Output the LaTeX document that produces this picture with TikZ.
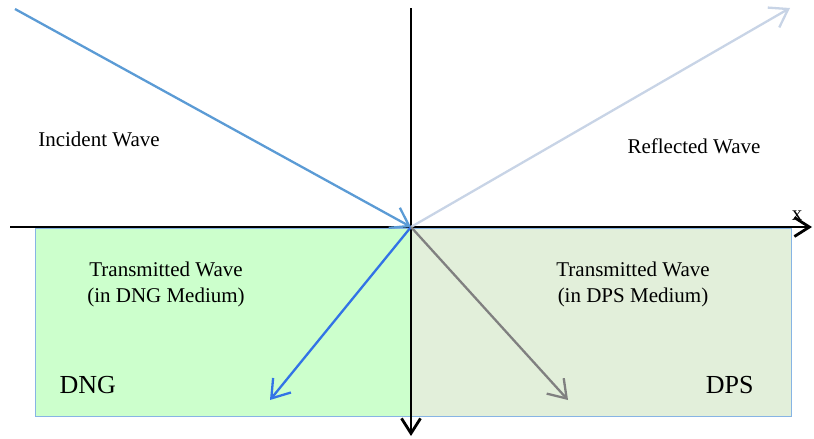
\documentclass[tikz,border=0pt]{standalone}
\usepackage{fontspec}
\setmainfont{Liberation Serif}
\usetikzlibrary{arrows.meta,positioning}

\definecolor{dngfill}{RGB}{204,255,204}
\definecolor{dpsfill}{RGB}{226,239,218}
\definecolor{mediumedge}{RGB}{135,180,228}
\definecolor{incidentblue}{RGB}{91,155,213}
\definecolor{reflectgray}{RGB}{200,212,230}
\definecolor{dngblue}{RGB}{50,115,230}
\definecolor{dpsgray}{RGB}{128,128,128}

\begin{document}
\begin{tikzpicture}[
    x = 1pt, y = -1pt,
    every node/.style = {font=\rmfamily\fontsize{21}{26}\selectfont},
    mediumbox/.style = {
        rectangle,
        draw=mediumedge,
        line width=1.2pt,
        anchor=north west,
        inner sep=0pt,
        minimum height=188pt
    },
    axis/.style = {
        -{Straight Barb[length=15pt,width=19pt]},
        line width=2.8pt
    },
    wave/.style = {
        -{Straight Barb[length=17pt,width=23pt]},
        line width=2.3pt
    },
    wavetext/.style = {align=center},
    mediumname/.style = {font=\rmfamily\fontsize{26}{30}\selectfont}
]
\useasboundingbox (0,0) rectangle (814,439);

% the two media
\node[mediumbox, fill=dngfill, minimum width=376pt] (dng) at (35,228) {};
\node[mediumbox, fill=dpsfill, minimum width=380pt] (dps) at (411,228) {};

\node[anchor=base] (xname) at (797,220) {x};

% axes
\coordinate (O) at (411,227);
\coordinate (xleft) at (10,227);
\coordinate (xright) at (812,227);
\coordinate (ytop) at (411,8);
\coordinate (ybottom) at (411,436);
\draw[axis] (xleft) -- (xright);
\draw[axis] (ytop) -- (ybottom);

% waves
\coordinate (incstart) at (15,9);
\coordinate (refend) at (790,8);
\coordinate (dngend) at (270,400);
\coordinate (dpsend) at (568,400);
\draw[wave, incidentblue] (incstart) -- (O);
\draw[wave, reflectgray] (O) -- (refend);
\draw[wave, dngblue] (O) -- (dngend);
\draw[wave, dpsgray] (O) -- (dpsend);

% labels
\node[anchor=base] (inclabel) at (99,146) {Incident Wave};
\node[anchor=base] (reflabel) at (694,153) {Reflected Wave};
\node[wavetext] (dnglabel) at (166,284) {Transmitted Wave\\(in DNG Medium)};
\node[wavetext] (dpslabel) at (633,284) {Transmitted Wave\\(in DPS Medium)};
\node[mediumname, anchor=base west] (dngname) at (56,393) {DNG};
\node[mediumname, anchor=base east] (dpsname) at (757,393) {DPS};

\end{tikzpicture}
\end{document}
